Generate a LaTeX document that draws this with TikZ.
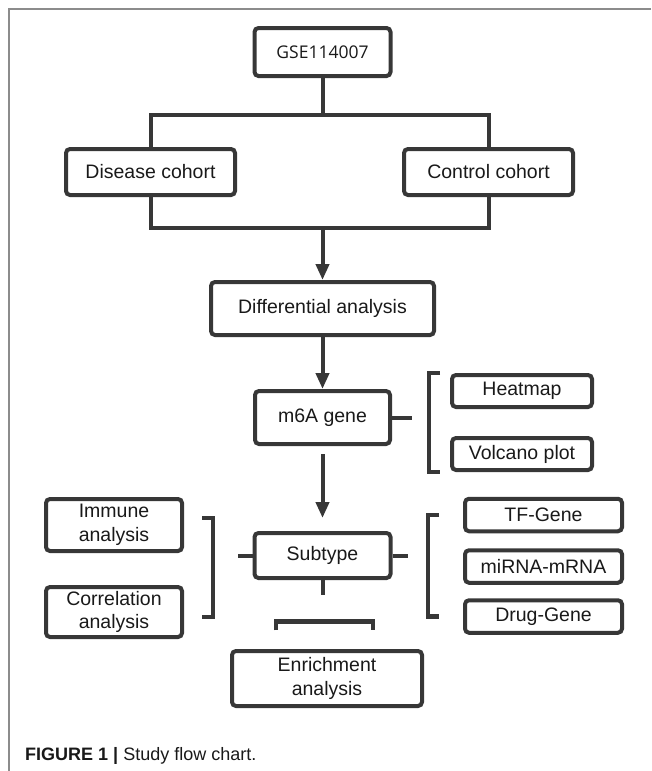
\documentclass[tikz,border=0pt]{standalone}
\usepackage{fontspec}
\setmainfont{Liberation Sans}
\newfontfamily\gsefont{Open Sans}
\usetikzlibrary{arrows.meta,calc}
\definecolor{boxgrey}{RGB}{55,55,55}
\definecolor{txtgrey}{RGB}{25,25,25}
\definecolor{framegrey}{RGB}{140,140,140}

\tikzset{
  box/.style={draw=boxgrey, line width=4pt, rounded corners=4pt, align=center,
    inner sep=0pt, text=txtgrey, font=\fontsize{19.5}{23.5}\selectfont},
  link/.style={draw=boxgrey, line width=4pt},
  arr/.style={link, -{Triangle[length=16pt,width=13pt]}},
  brk/.style={draw=boxgrey, line width=4.5pt}
}

\begin{document}
\begin{tikzpicture}[x={(1pt,0)}, y={(0,-1pt)}]
\useasboundingbox (0,0) rectangle (651,771);

\draw[framegrey, line width=1.2pt] (651,9) -- (9,9) -- (9,771);

\node[box, minimum width=136pt, minimum height=48pt, font=\gsefont\fontsize{17.5}{20}\selectfont] (gse) at (322.5,52) {GSE114007};
\node[box, minimum width=169pt, minimum height=46pt] (disease) at (150.5,172) {Disease cohort};
\node[box, minimum width=169pt, minimum height=46pt] (control) at (488.5,172) {Control cohort};
\node[box, minimum width=223pt, minimum height=53pt] (diff) at (322.5,308.5) {Differential analysis};
\node[box, minimum width=135pt, minimum height=53pt] (m6a) at (322.5,417.5) {m6A gene};
\node[box, minimum width=140pt, minimum height=32pt] (heat) at (522,391) {Heatmap};
\node[box, minimum width=140pt, minimum height=32pt] (volc) at (522,454) {Volcano plot};
\node[box, minimum width=136pt, minimum height=45pt] (sub) at (322.5,555.5) {Subtype};
\node[box, minimum width=136pt, minimum height=52pt] (immune) at (114,525) {Immune\\analysis};
\node[box, minimum width=136pt, minimum height=50pt] (corr) at (114,612) {Correlation\\analysis};
\node[box, minimum width=157pt, minimum height=32.5pt] (tf) at (543.5,515) {TF-Gene};
\node[box, minimum width=157pt, minimum height=32.5pt] (mirna) at (543.5,566.5) {miRNA-mRNA};
\node[box, minimum width=157pt, minimum height=32.5pt] (drug) at (543.5,616.5) {Drug-Gene};
\node[box, minimum width=190pt, minimum height=55pt] (enrich) at (327,678.5) {Enrichment\\analysis};

% split and merge of the two cohorts
\coordinate (top) at (322.5,115);
\coordinate (bot) at (322.5,228);
\draw[link] (gse.south) -- (top);
\draw[link] (disease.north) |- (top) -| (control.north);
\draw[link] (disease.south) |- (bot) -| (control.south);
\draw[arr] (bot) -- (diff.north);
\draw[arr] (diff.south) -- (m6a.north);
\draw[arr, shorten <=8pt, shorten >=13pt] (m6a.south) -- (sub.north);

% ticks and brackets
\draw[link] (m6a.east) -- ++(20,0);
\draw[link] (sub.west) -- ++(-15,0);
\draw[link] (sub.east) -- ++(15,0);
\draw[link] (sub.south) -- ++(0,15);
\draw[brk] ([xshift=-10pt]heat.north west) -| ([xshift=-21pt]volc.south west) -- ([xshift=-10pt]volc.south west);
\draw[brk] ([xshift=-24pt]tf.west) -| ([xshift=-35pt]drug.west) -- ([xshift=-24pt]drug.west);
\draw[brk] ([xshift=18pt,yshift=7pt]immune.east) -| ([xshift=29pt,yshift=-5pt]corr.east) -- ([xshift=18pt,yshift=-5pt]corr.east);
\draw[brk] ([shift={(-51pt,18.75pt)}]enrich.north) |- ([shift={(46pt,27.75pt)}]enrich.north) -- ([shift={(46pt,18.75pt)}]enrich.north);

\node[anchor=base west, inner sep=0pt, text=txtgrey, font=\fontsize{18}{20}\selectfont] (cap) at (25,760) {\textbf{FIGURE 1 |} Study flow chart.};

\end{tikzpicture}
\end{document}
